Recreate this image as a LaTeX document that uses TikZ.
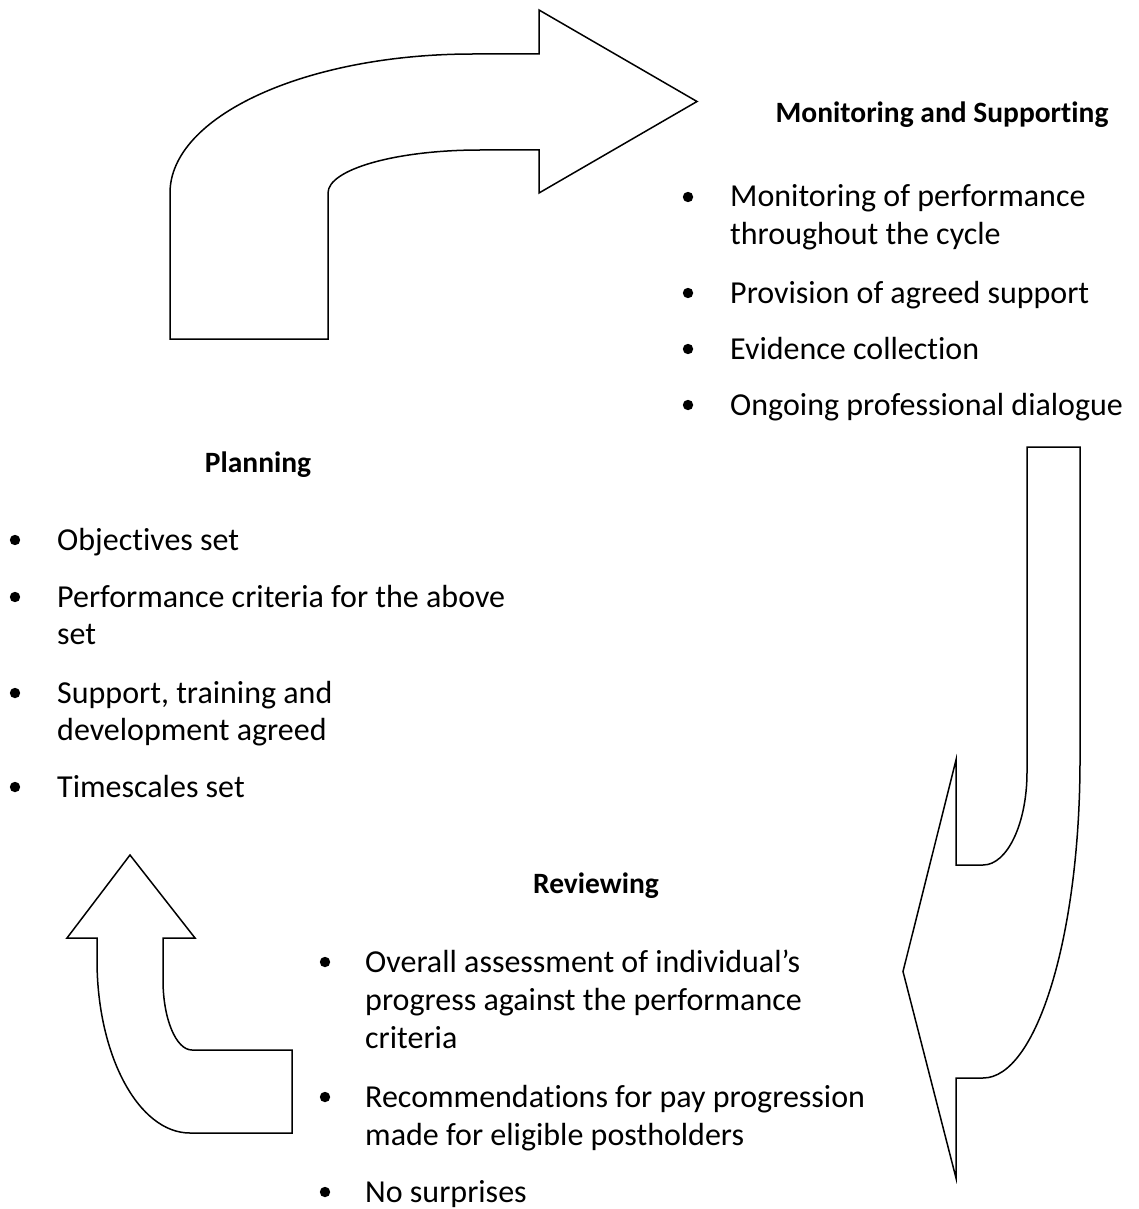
\documentclass[tikz,border=0pt]{standalone}
\usepackage{fontspec}
\setmainfont{Carlito}[RawFeature={-liga;-clig;-dlig;-calt}]
\begin{document}
\begin{tikzpicture}[x=1pt,y=-1pt,
  arrowshape/.style={draw=black, line width=1.5pt, line join=miter, fill=white},
  txt/.style={inner sep=0pt, anchor=base west, font=\fontsize{32}{38}\selectfont},
  ttl/.style={inner sep=0pt, anchor=base, font=\fontsize{29.5}{35}\selectfont\bfseries},
  blt/.style={fill=black}]
\useasboundingbox (0,0) rectangle (1138,1209);

% top arrow (Planning -> Monitoring)
\draw[arrowshape] (170,339) -- (170,193)
  .. controls (170,116.2) and (305.7,54) .. (473,54)
  -- (539,54) -- (539,10) -- (697,101.5) -- (539,193) -- (539,150) -- (480,150)
  .. controls (396,150) and (328,169.3) .. (328,193)
  -- (328,339) -- cycle;

% right arrow (Monitoring -> Reviewing)
\draw[arrowshape] (1027,447) -- (1080,447) -- (1080,760)
  .. controls (1080,935.6) and (1036.6,1078) .. (983,1078)
  -- (956,1078) -- (956,1178) -- (903,971.5) -- (956,760) -- (956,865) -- (983,865)
  .. controls (1007.3,865) and (1027,823.4) .. (1027,772)
  -- cycle;

% bottom-left arrow (Reviewing -> Planning)
\draw[arrowshape] (292,1050) -- (292,1133) -- (190,1133)
  .. controls (138.6,1133) and (97,1055.5) .. (97,960)
  -- (97,938) -- (67,938) -- (130,855) -- (195,938) -- (163,938) -- (163,980)
  .. controls (163,1018.7) and (176,1050) .. (192,1050)
  -- cycle;

% Monitoring and Supporting
\node[ttl] (mt) at (942,123) {Monitoring and Supporting};
\node[txt] (m1a) at (730,207) {Monitoring of performance};
\node[txt] (m1b) at (730,244) {throughout the cycle};
\node[txt] (m2) at (730,303) {Provision of agreed support};
\node[txt] (m3) at (730,359) {Evidence collection};
\node[txt] (m4) at (730,415) {Ongoing professional dialogue};
\foreach \yy in {207,303,359,415} \fill[blt] (688,\yy-10) circle (5.2);

% Planning
\node[ttl] (pt) at (258,472) {Planning};
\node[txt] (p1) at (57,550) {Objectives set};
\node[txt] (p2a) at (57,607) {Performance criteria for the above};
\node[txt] (p2b) at (57,644) {set};
\node[txt] (p3a) at (57,703) {Support, training and};
\node[txt] (p3b) at (57,740) {development agreed};
\node[txt] (p4) at (57,797) {Timescales set};
\foreach \yy in {550,607,703,797} \fill[blt] (15,\yy-10) circle (5.2);

% Reviewing
\node[ttl] (rt) at (596,893) {Reviewing};
\node[txt] (r1a) at (365,972) {Overall assessment of individual’s};
\node[txt] (r1b) at (365,1010) {progress against the performance};
\node[txt] (r1c) at (365,1048) {criteria};
\node[txt] (r2a) at (365,1107) {Recommendations for pay progression};
\node[txt] (r2b) at (365,1145) {made for eligible postholders};
\node[txt] (r3) at (365,1202) {No surprises};
\foreach \yy in {972,1107,1202} \fill[blt] (325,\yy-10) circle (5.2);
\end{tikzpicture}
\end{document}
